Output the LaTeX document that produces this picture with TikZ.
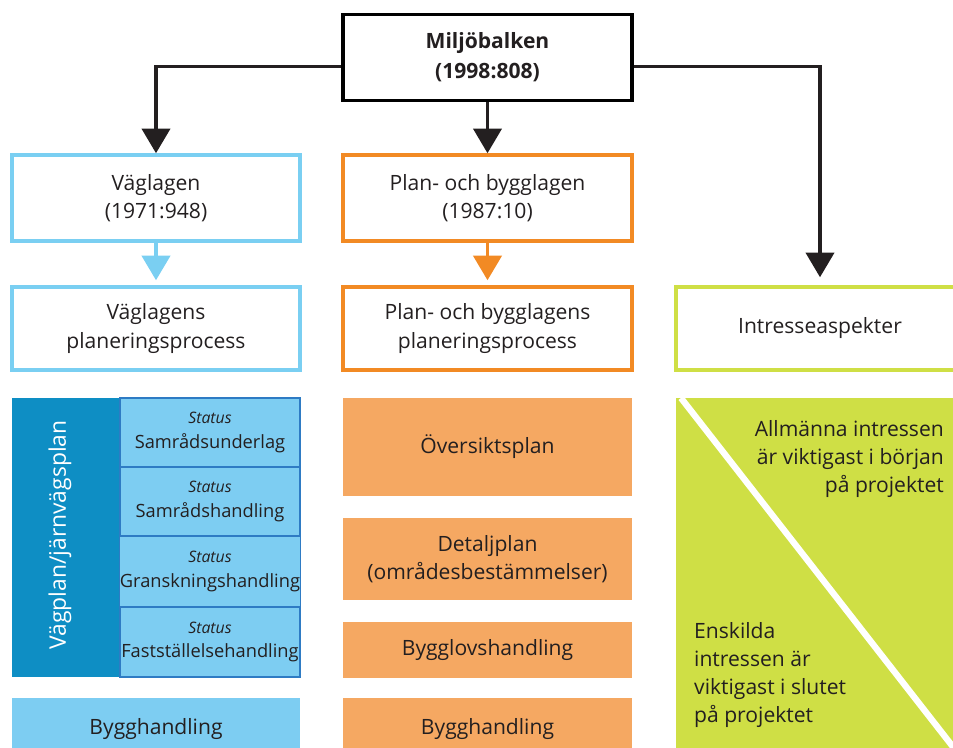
\documentclass[tikz,border=0pt]{standalone}
\usepackage{fontspec}
\setmainfont{Open Sans}
\usetikzlibrary{arrows.meta, positioning, calc}

\definecolor{txt}{HTML}{231F20}
\definecolor{vlblue}{HTML}{7ACFF2}
\definecolor{stblue}{HTML}{7DCDF2}
\definecolor{stline}{HTML}{2E7BC4}
\definecolor{darkblue}{HTML}{0E8EC4}
\definecolor{pblorange}{HTML}{F28A24}
\definecolor{orfill}{HTML}{F5A862}
\definecolor{ingreen}{HTML}{CFDF45}

\newcommand{\stlabel}{{\fontsize{9}{11}\selectfont\itshape Status}}

\begin{document}
\begin{tikzpicture}[
    x=0.02cm, y=-0.02cm,
    font=\fontsize{12}{16}\selectfont, text=txt,
    lawbox/.style={rectangle, draw, line width=2pt, minimum width=5.78cm, minimum height=1.72cm, align=center},
    boxV/.style={lawbox, draw=vlblue, minimum width=5.76cm},
    boxP/.style={lawbox, draw=pblorange},
    boxI/.style={lawbox, draw=ingreen, minimum width=5.76cm},
    status/.style={rectangle, draw=stline, line width=0.6pt, fill=stblue, minimum width=3.6cm, inner xsep=0pt, align=center, font=\fontsize{10.4}{14}\selectfont},
    fillV/.style={rectangle, fill=stblue, minimum width=5.76cm, align=center},
    fillP/.style={rectangle, fill=orfill, minimum width=5.78cm, align=center},
    arr/.style={-{Triangle[width=16pt, length=14pt]}, line width=2pt, txt},
    arrV/.style={-{Triangle[width=16pt, length=14pt]}, line width=2.2pt, vlblue, shorten >=0.1cm},
    arrP/.style={-{Triangle[width=16pt, length=14pt]}, line width=2.2pt, pblorange, shorten >=0.1cm}
]
\useasboundingbox (0,0) rectangle (953,747);

% Top level
\node[lawbox, font=\fontsize{12}{17}\selectfont\bfseries] (mb) at (487.5,57.5) {Miljöbalken\\(1998:808)};

% Laws
\node[boxV] (vl) at (156,198) {Väglagen\\(1971:948)};
\node[boxP] (pbl) at (487.5,198) {Plan- och bygglagen\\(1987:10)};

% Processes
\node[boxV, minimum height=1.66cm] (vlp) at (156,328.5) {Väglagens\\planeringsprocess};
\node[boxP, minimum height=1.66cm] (pblp) at (487.5,328.5) {Plan- och bygglagens\\planeringsprocess};
\node[boxI, minimum height=1.66cm] (intr) at (820,328.5) {Intresseaspekter};

% Vägplan
\node[rectangle, fill=darkblue, minimum width=2.16cm, minimum height=5.58cm] (vplan) at (66,537.5) {};
\node[rotate=90, text=white, font=\fontsize{13}{16}\selectfont] (vplantxt) at (60,535) {Vägplan/järnvägsplan};
\node[status, minimum height=1.38cm] (st1) at (210,432.5) {\stlabel\\Samrådsunderlag};
\node[status, minimum height=1.38cm] (st2) at (210,501.5) {\stlabel\\Samrådshandling};
\node[status, minimum height=1.42cm] (st3) at (210,571.5) {\stlabel\\Granskningshandling};
\node[status, minimum height=1.40cm] (st4) at (210,642) {\stlabel\\Fastställelsehandling};
\node[fillV, minimum height=1.24cm] (byggV) at (156,729) {Bygghandling};

% PBL steps
\node[fillP, minimum height=1.96cm] (op) at (487.5,447) {Översiktsplan};
\node[fillP, minimum height=1.64cm] (dp) at (487.5,559) {Detaljplan\\(områdesbestämmelser)};
\node[fillP, minimum height=1.12cm] (blov) at (487.5,650) {Bygglovshandling};
\node[fillP, minimum height=1.24cm] (byggP) at (487.5,729) {Bygghandling};

% Intressen
\node[rectangle, fill=ingreen, minimum width=5.76cm, minimum height=7.24cm, anchor=north west] (ifield) at (676,398) {};
\draw[white, line width=3.6pt] (ifield.north west) ++(5,0) -- (964,761);
\node[align=right, anchor=north east] (pub) at (950,414) {Allmänna intressen\\är viktigast i början\\på projektet};
\node[align=left, anchor=north west] (priv) at (688,616) {Enskilda\\intressen är\\viktigast i slutet\\på projektet};

% Arrows
\draw[arr] ([yshift=-0.18cm]mb.west) -| (vl.north);
\draw[arr] (mb.south) -- (pbl.north);
\draw[arr] ([yshift=-0.18cm]mb.east) -| ([yshift=0.16cm]intr.north);
\draw[arrV] (vl.south) -- (vlp.north);
\draw[arrP] (pbl.south) -- (pblp.north);

\end{tikzpicture}
\end{document}
